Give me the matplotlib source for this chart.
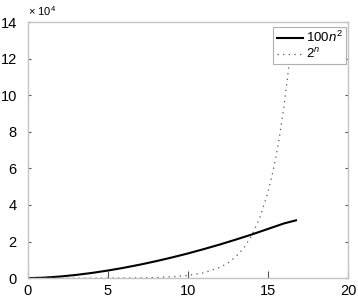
import matplotlib
matplotlib.use("Agg")
import matplotlib.pyplot as plt
import numpy as np

# values (raw units, axis shows x 10^4)
n_quad = [0, 1, 2, 3, 4, 5, 6, 7, 8, 9, 10, 11, 12, 13, 14, 15, 16, 16.75]
quad = [0, 270, 880, 1750, 2850, 4170, 5680, 7380, 9260, 11310,
        13500, 15900, 18400, 21100, 23900, 26900, 29900, 31600]

n_exp = [0, 1, 2, 3, 4, 5, 6, 7, 8, 9, 10, 11, 12, 12.5, 13, 13.5, 14,
         14.5, 15, 15.25, 15.5, 15.75, 16, 16.25, 16.5]
expo = [1, 3, 6, 11, 23, 46, 92, 184, 367, 734, 1470, 2940, 5870, 8300,
        11750, 16600, 23500, 33200, 47000, 55900, 66400, 79000, 94000,
        111800, 132000]

labels = [r"$100\mathit{n}^2$", r"$2^{\mathit{n}}$"]

plt.rcParams["font.family"] = ["Liberation Sans", "DejaVu Sans"]
plt.rcParams["mathtext.fontset"] = "custom"
plt.rcParams["mathtext.rm"] = "Liberation Sans"
plt.rcParams["mathtext.it"] = "Liberation Sans:italic"

fig = plt.figure(figsize=(3.58, 3.02), dpi=100)
ax = fig.add_axes([0.078, 0.079, 0.894, 0.848])

scale = 1e4
ax.plot(n_quad, np.array(quad) / scale, color="black", lw=1.5,
        label=labels[0])
ax.plot(n_exp, np.array(expo) / scale, color="#555555", lw=0.9,
        linestyle=(0, (1, 3.5)), label=labels[1])

ax.set_xlim(0, 20)
ax.set_ylim(0, 14)
ax.set_xticks([0, 5, 10, 15, 20])
ax.set_yticks([0, 2, 4, 6, 8, 10, 12, 14])

for s in ax.spines.values():
    s.set_color("#c4c4c4")
    s.set_linewidth(1.0)

ax.tick_params(axis="both", direction="in", labelsize=10.5, color="#555555",
               width=0.8)
ax.tick_params(axis="x", length=5, pad=4, top=False)
ax.tick_params(axis="y", length=2.5, pad=8, right=True)

ax.text(0.0, 1.015, r"$\times\ 10^4$", transform=ax.transAxes,
        fontsize=8, ha="left", va="bottom")

leg = ax.legend(loc="upper right", bbox_to_anchor=(0.995, 0.982),
                fontsize=9.5, fancybox=False, framealpha=1,
                edgecolor="#b0b0b0", handlelength=2.0, handletextpad=0.25,
                borderpad=0.25, labelspacing=0.15, borderaxespad=0)
leg.get_frame().set_linewidth(0.8)

fig.savefig("out.png", dpi=100)
